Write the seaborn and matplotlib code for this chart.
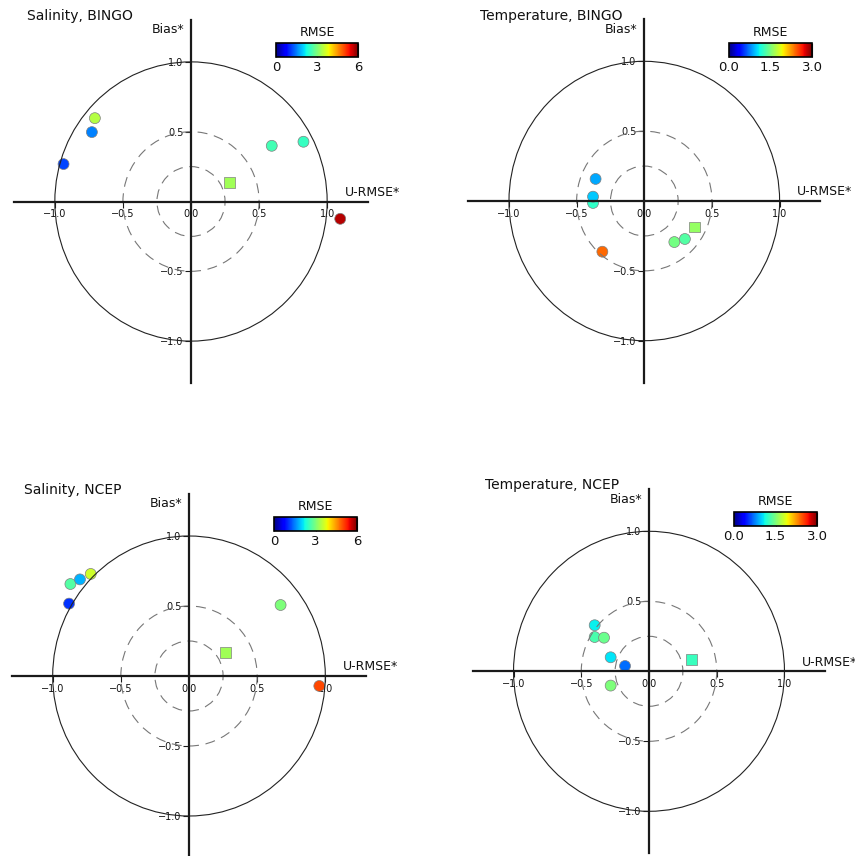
import numpy as np
import pandas as pd
import matplotlib
matplotlib.use("Agg")
import matplotlib.pyplot as plt
import seaborn as sns
from matplotlib.patches import Circle
from matplotlib.cm import ScalarMappable
from matplotlib.colors import Normalize

sns.set_style("white")
plt.rcParams['font.family'] = ['DejaVu Sans']
plt.rcParams['text.color'] = '#111111'
JET = matplotlib.colormaps["jet"]

# ---- data ----
titles = ["Salinity, BINGO", "Temperature, BINGO", "Salinity, NCEP", "Temperature, NCEP"]
rmse_max = [6.0, 3.0, 6.0, 3.0]
cbar_ticks = [[0, 3, 6], [0.0, 1.5, 3.0], [0, 3, 6], [0.0, 1.5, 3.0]]
cbar_ticklabels = [["0", "3", "6"], ["0.0", "1.5", "3.0"], ["0", "3", "6"], ["0.0", "1.5", "3.0"]]

sal_bingo_urmse = [-0.706, -0.728, -0.936, 0.593, 0.826, 1.096, 0.282]
sal_bingo_bias = [0.597, 0.497, 0.268, 0.399, 0.428, -0.124, 0.136]
sal_bingo_rmse = [3.4, 1.5, 1.15, 2.6, 2.5, 5.7, 3.27]
sal_bingo_kind = ["circle"] * 6 + ["square"]

tem_bingo_urmse = [-0.360, -0.379, -0.379, -0.310, 0.222, 0.300, 0.372]
tem_bingo_bias = [0.158, -0.014, 0.031, -0.363, -0.294, -0.272, -0.186]
tem_bingo_rmse = [0.875, 1.23, 0.97, 2.4, 1.47, 1.35, 1.59]
tem_bingo_kind = ["circle"] * 6 + ["square"]

sal_ncep_urmse = [-0.870, -0.800, -0.721, -0.880, 0.672, 0.956, 0.269]
sal_ncep_bias = [0.657, 0.690, 0.729, 0.517, 0.507, -0.071, 0.167]
sal_ncep_rmse = [2.7, 1.8, 3.6, 1.05, 3.0, 5.0, 3.27]
sal_ncep_kind = ["circle"] * 6 + ["square"]

tem_ncep_urmse = [-0.401, -0.332, -0.401, -0.283, -0.177, -0.283, 0.312]
tem_ncep_bias = [0.245, 0.240, 0.329, 0.100, 0.038, -0.102, 0.086]
tem_ncep_rmse = [1.32, 1.44, 1.08, 1.05, 0.70, 1.50, 1.26]
tem_ncep_kind = ["circle"] * 6 + ["square"]

panels = [
    (sal_bingo_urmse, sal_bingo_bias, sal_bingo_rmse, sal_bingo_kind),
    (tem_bingo_urmse, tem_bingo_bias, tem_bingo_rmse, tem_bingo_kind),
    (sal_ncep_urmse, sal_ncep_bias, sal_ncep_rmse, sal_ncep_kind),
    (tem_ncep_urmse, tem_ncep_bias, tem_ncep_rmse, tem_ncep_kind),
]

W, H = 855, 856
fig = plt.figure(figsize=(W / 100, H / 100), dpi=100)

def px(x0, x1, ytop, ybot):
    return [x0 / W, (H - ybot) / H, (x1 - x0) / W, (ybot - ytop) / H]

# axes boxes in pixel coords (data range -1.3..1.3 both directions)
boxes = [
    px(14, 368, 20, 383),
    px(468.4, 820.2, 19.4, 382.6),
    px(11.8, 366.2, 494, 858),
    px(472.9, 825.1, 489.3, 853.3),
]
cbar_boxes = [
    px(276, 358, 43, 56.5),
    px(729, 812, 43, 56.5),
    px(274, 357, 517, 530.5),
    px(734, 817, 512, 525.5),
]
title_pos = [(27, 16), (480, 16), (24, 490), (485, 485)]

L = 1.3
for i, (u, b, r, kind) in enumerate(panels):
    ax = fig.add_axes(boxes[i])
    df = pd.DataFrame({"U-RMSE*": u, "Bias*": b, "RMSE": r, "kind": kind})
    sns.scatterplot(data=df, x="U-RMSE*", y="Bias*", hue="RMSE", palette=JET,
                    hue_norm=(0, rmse_max[i]), style="kind",
                    markers={"circle": "o", "square": "s"}, s=62,
                    edgecolor="#808080", linewidth=0.5, legend=False, ax=ax, zorder=2)
    ax.set_xlim(-L, L)
    ax.set_ylim(-L, L)
    ax.set_xlabel("")
    ax.set_ylabel("")
    # reference circles
    ax.add_patch(Circle((0, 0), 1.0, fill=False, lw=0.8, ec="#222222", zorder=3))
    for rr in (0.5, 0.25):
        ax.add_patch(Circle((0, 0), rr, fill=False, lw=0.8, ec="#777777",
                            ls=(0, (9, 6)), zorder=3))
    # spines through origin
    for s in ("top", "right"):
        ax.spines[s].set_visible(False)
    for s in ("left", "bottom"):
        ax.spines[s].set_position(("data", 0))
        ax.spines[s].set_linewidth(1.6)
        ax.spines[s].set_color("#1a1a1a")
        ax.spines[s].set_zorder(4)
    ax.set_xticks([-1.0, -0.5, 0.0, 0.5, 1.0])
    ax.set_xticklabels(["\u22121.0", "\u22120.5", "0.0", "0.5", "1.0"])
    ax.set_yticks([-1.0, -0.5, 0.5, 1.0])
    ax.set_yticklabels(["\u22121.0", "\u22120.5", "0.5", "1.0"])
    ax.tick_params(axis="both", labelsize=7, length=4, width=0.8, pad=1.5,
                   color="#1a1a1a", labelcolor="#111111", direction="out",
                   bottom=True, left=True)
    ax.patch.set_alpha(0)
    ax.text(-0.05, L - 0.07, "Bias*", ha="right", va="center", fontsize=9,
            transform=ax.transData, clip_on=False)
    ax.text(1.13, 0.02, "U-RMSE*", ha="left", va="bottom", fontsize=9,
            transform=ax.transData, clip_on=False)
    fig.text(title_pos[i][0] / W, 1 - title_pos[i][1] / H, titles[i],
             ha="left", va="center", fontsize=10)

    cax = fig.add_axes(cbar_boxes[i])
    sm = ScalarMappable(norm=Normalize(0, rmse_max[i]), cmap=JET)
    cb = fig.colorbar(sm, cax=cax, orientation="horizontal", ticks=cbar_ticks[i])
    cb.set_ticklabels(cbar_ticklabels[i])
    cb.outline.set_linewidth(1.2)
    cb.outline.set_edgecolor("black")
    cax.tick_params(labelsize=9.5, direction="in", length=10, width=0.8,
                    color="#222222", labelcolor="#111111", pad=3)
    cax.set_title("RMSE", fontsize=9, pad=5)

fig.savefig("out.png", dpi=100)
